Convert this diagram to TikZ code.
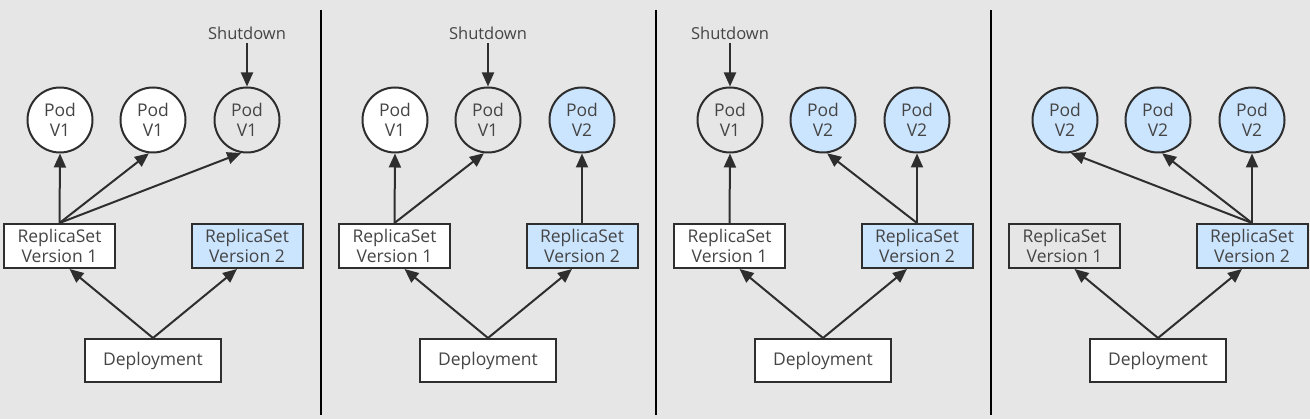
\documentclass[tikz,border=0pt]{standalone}
\usepackage{fontspec}
\setmainfont{Open Sans}
\usepackage{tikz}
\usetikzlibrary{arrows.meta,calc}
\definecolor{bggray}{HTML}{E6E6E6}
\definecolor{podblue}{HTML}{CCE5FF}
\definecolor{ink}{HTML}{2E2E2E}
\definecolor{txt}{HTML}{454545}

\begin{document}
\begin{tikzpicture}[x=1pt,y=-1pt,
  pod/.style={circle,draw=ink,line width=2pt,minimum size=65pt,inner sep=0pt,align=center,text=txt,font=\fontsize{17.5}{20}\selectfont},
  rsbox/.style={rectangle,draw=ink,line width=2pt,minimum width=111pt,minimum height=44pt,inner sep=0pt,align=center,text=txt,font=\fontsize{17.5}{20}\selectfont},
  depbox/.style={rsbox,fill=white,minimum width=136pt,minimum height=43pt},
  link/.style={draw=ink,line width=2pt,-{Triangle[length=14pt,width=12pt]}}]
  \fill[bggray] (0,0) rectangle (1310,419);
  \foreach \x in {321,656,991}
  	\draw[black,line width=2pt] (\x,10) -- (\x,415);
  \foreach \n/\fa/\va/\fb/\vb/\fc/\vc/\fr in {1/white/V1/white/V1/bggray/V1/white,2/white/V1/bggray/V1/podblue/V2/white,3/bggray/V1/podblue/V2/podblue/V2/white,4/podblue/V2/podblue/V2/podblue/V2/bggray}{
    \begin{scope}[xshift={(\n-1)*335pt}]
      \node[pod,fill=\fa] (pa\n) at (60,120) {Pod\\\va};
      \node[pod,fill=\fb] (pb\n) at (153,120) {Pod\\\vb};
      \node[pod,fill=\fc] (pc\n) at (247,120) {Pod\\\vc};
      \node[rsbox,fill=\fr] (rsa\n) at (59.5,246) {ReplicaSet\\Version 1};
      \node[rsbox,fill=podblue] (rsb\n) at (247,246) {ReplicaSet\\Version 2};
      \node[depbox] (dep\n) at (153,360.5) {Deployment};
    \end{scope}
    \draw[link] (dep\n.north) -- ($(rsa\n.south)+(10,0)$);
    \draw[link] (dep\n.north) -- ($(rsb\n.south)+(-10,0)$);
  }
  \node[text=txt,font=\fontsize{16.5}{18}\selectfont] (sd1) at (247,33) {Shutdown};
  \node[text=txt,font=\fontsize{16.5}{18}\selectfont] (sd2) at (488,33) {Shutdown};
  \node[text=txt,font=\fontsize{16.5}{18}\selectfont] (sd3) at (730,33) {Shutdown};
  \draw[link] (sd1.south) -- (pc1.north);
  \draw[link] (sd2.south) -- (pb2.north);
  \draw[link] (sd3.south) -- (pa3.north);
  \draw[link] (rsa1.north) -- (pa1.south);
  \draw[link] (rsa1.north) -- (pb1.-97);
  \draw[link] (rsa1.north) -- (pc1.-100);
  \draw[link] (rsa2.north) -- (pa2.south);
  \draw[link] (rsa2.north) -- (pb2.-97);
  \draw[link] (rsb2.north) -- (pc2.south);
  \draw[link] (rsa3.north) -- (pa3.south);
  \draw[link] (rsb3.north) -- (pb3.-83);
  \draw[link] (rsb3.north) -- (pc3.south);
  \draw[link] (rsb4.north) -- (pa4.-80);
  \draw[link] (rsb4.north) -- (pb4.-83);
  \draw[link] (rsb4.north) -- (pc4.south);
\end{tikzpicture}
\end{document}
